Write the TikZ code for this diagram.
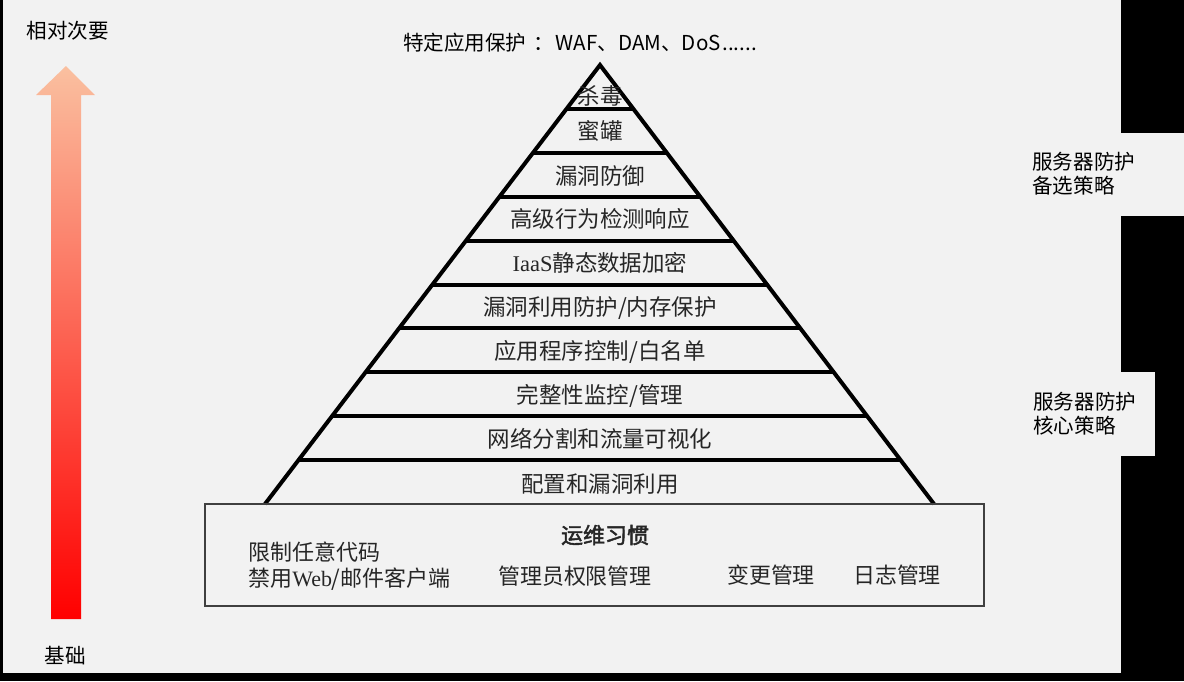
\documentclass[tikz,border=0pt]{standalone}
\usepackage{fontspec}
\setmainfont{Noto Sans CJK SC}[AutoFakeBold=2]
\newfontfamily\latserif{Liberation Serif}
\usetikzlibrary{calc}
\definecolor{bggray}{HTML}{F2F2F2}
\definecolor{boxline}{HTML}{404040}
\definecolor{arrowtop}{RGB}{250,192,160}

\begin{document}
\begin{tikzpicture}[x=0.02cm,y=-0.02cm,
    layer/.style={font=\fontsize{12.8pt}{15pt}\selectfont,text=black!85,inner sep=0pt},
    habit/.style={font=\fontsize{12.5pt}{14.8pt}\selectfont,text=black!85,inner sep=0pt,align=left},
    side/.style={font=\fontsize{11.7pt}{13.7pt}\selectfont,inner sep=0pt,align=left}
  ]
    % Background with black frame parts
    \fill[black] (0,0) rectangle (1184,681);
    \fill[bggray] (3,0) rectangle (1121,673);
    \fill[bggray] (1121,133) rectangle (1184,216);
    \fill[bggray] (1121,372) rectangle (1155,456);

    % Importance arrow
    \shade[top color=arrowtop,bottom color=red]
      (51,619) -- (51,95) -- (36,95) -- (66,66) -- (95,95) -- (81,95) -- (81,619) -- cycle;
    \node[side] (minor) at (68,31) {相对次要};
    \node[side] (base) at (65,656) {基础};

    % Pyramid outline and layers
    \coordinate (apex) at (600,65);
    \coordinate (bl) at (265,504);
    \coordinate (br) at (934,504);
    \draw[line width=0.08cm] (bl) -- (apex) -- (br);
    \foreach \k in {1,...,9}
      \draw[line width=0.08cm] ($(apex)!\k/10!(bl)$) -- ($(apex)!\k/10!(br)$);

    \node[layer] (l1) at (600,96) {杀毒};
    \node[layer] (l2) at (600,131) {蜜罐};
    \node[layer] (l3) at (600,176) {漏洞防御};
    \node[layer] (l4) at (600,219) {高级行为检测响应};
    \node[layer] (l5) at (600,263) {{\latserif IaaS}静态数据加密};
    \node[layer] (l6) at (600,308) {漏洞利用防护/内存保护};
    \node[layer] (l7) at (600,352) {应用程序控制/白名单};
    \node[layer] (l8) at (600,396) {完整性监控/管理};
    \node[layer] (l9) at (600,439) {网络分割和流量可视化};
    \node[layer] (l10) at (600,484) {配置和漏洞利用};

    % Operations box
    \draw[boxline,line width=0.04cm] (205,504) rectangle (984,606);
    \node[habit,font=\fontsize{12.5pt}{14.8pt}\selectfont\bfseries] (ops) at (605,535) {运维习惯};
    \node[habit,anchor=west] (code) at (248,566) {限制任意代码\\禁用{\latserif Web}/邮件客户端};
    \node[habit] (admin) at (575,576) {管理员权限管理};
    \node[habit] (change) at (771,575) {变更管理};
    \node[habit] (logs) at (897,575) {日志管理};

    % Labels around the pyramid
    \node[side] (special) at (580,43) {特定应用保护\hspace{4pt}：\hspace{1pt}WAF、DAM、DoS\hspace{1pt}......};
    \node[side,anchor=west] (alt) at (1032,174) {服务器防护\\备选策略};
    \node[side,anchor=west] (core) at (1033,414) {服务器防护\\核心策略};
\end{tikzpicture}
\end{document}
